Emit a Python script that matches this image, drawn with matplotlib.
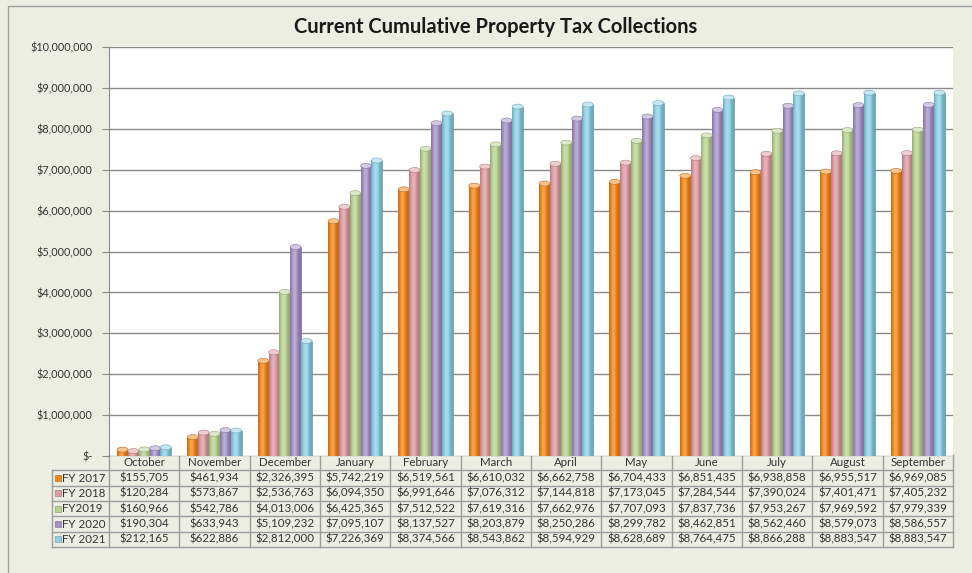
import matplotlib.pyplot as plt
import numpy as np
from matplotlib.patches import Rectangle, Ellipse
from matplotlib.colors import to_rgb

months = ['October', 'November', 'December', 'January', 'February', 'March',
          'April', 'May', 'June', 'July', 'August', 'September']
series = ['FY 2017', 'FY 2018', 'FY2019', 'FY 2020', 'FY 2021']

fy2017 = [155705, 461934, 2326395, 5742219, 6519561, 6610032,
          6662758, 6704433, 6851435, 6938858, 6955517, 6969085]
fy2018 = [120284, 573867, 2536763, 6094350, 6991646, 7076312,
          7144818, 7173045, 7284544, 7390024, 7401471, 7405232]
fy2019 = [160966, 542786, 4013006, 6425365, 7512522, 7619316,
          7662976, 7707093, 7837736, 7953267, 7969592, 7979339]
fy2020 = [190304, 633943, 5109232, 7095107, 8137527, 8203879,
          8250286, 8299782, 8462851, 8562460, 8579073, 8586557]
fy2021 = [212165, 622886, 2812000, 7226369, 8374566, 8543862,
          8594929, 8628689, 8764475, 8866288, 8883547, 8883547]
values = [fy2017, fy2018, fy2019, fy2020, fy2021]

colors = ['#f2861c', '#dc9aa1', '#b8d191', '#a591c6', '#8cd0e4']

plt.rcParams['font.family'] = ['Lato', 'DejaVu Sans']

W, H = 972, 573
fig = plt.figure(figsize=(W / 100, H / 100), dpi=100)
fig.patch.set_facecolor('#eceee2')

# background layer in pixel units: frame, title, data table
bg = fig.add_axes([0, 0, 1, 1], zorder=0)
bg.set_xlim(0, W)
bg.set_ylim(H, 0)
bg.axis('off')
bg.add_patch(Rectangle((8, 6), W, H, fill=False, edgecolor='#a0a0a0', lw=1))
bg.text(496, 27, 'Current Cumulative Property Tax Collections', ha='center',
        va='center', fontsize=14.5, fontweight='bold', color='#1a1a1a')

PL, PR, PT, PB = 109, 953, 47, 456
ax = fig.add_axes([PL / W, 1 - PB / H, (PR - PL) / W, (PB - PT) / H], zorder=1)
ax.set_facecolor('white')


def shade(base, t):
    # brightness profile across a cylinder: dark rims, highlight near the middle
    f = 0.8 + 0.45 * np.exp(-((t - 0.42) / 0.26) ** 2)
    base = np.array(to_rgb(base))
    out = np.empty((len(t), 3))
    for k, fk in enumerate(f):
        if fk < 1:
            out[k] = base * fk
        else:
            out[k] = base + (1 - base) * (fk - 1)
    return np.clip(out, 0, 1)


bw = 0.154
x = np.arange(len(months))
t = np.linspace(0, 1, 40)
cap_h = 1.0e7 / (PB - PT) * 5
for i, vals in enumerate(values):
    pos = x + (i - 2) * bw
    rects = ax.bar(pos, vals, bw, color=colors[i],
                   edgecolor=np.array(to_rgb(colors[i])) * 0.7, lw=0.5, zorder=3)
    grad = shade(colors[i], t)[np.newaxis, :, :]
    for r in rects:
        x0, w, h = r.get_x(), r.get_width(), r.get_height()
        im = ax.imshow(grad, extent=(x0, x0 + w, 0, h), aspect='auto',
                       interpolation='bilinear', zorder=3.5)
        im.set_clip_path(r)
        top = np.array(to_rgb(colors[i]))
        ax.add_patch(Ellipse((x0 + w / 2, h), w, cap_h,
                             facecolor=top + (1 - top) * 0.5,
                             edgecolor=top * 0.8, lw=0.4, zorder=4))

ax.set_xlim(-0.5, len(months) - 0.5)
ax.set_ylim(0, 10000000)
ax.set_yticks(np.arange(0, 10000001, 1000000))
ax.set_yticklabels(['$-'] + ['${:,}'.format(v) for v in range(1000000, 10000001, 1000000)])
ax.set_xticks([])
ax.yaxis.grid(True, color='#8a8a8a', lw=1)
ax.set_axisbelow(True)
ax.tick_params(axis='y', length=5, color='#8a8a8a', labelsize=7.8,
               labelcolor='#333333', pad=7)
for s in ['top', 'right', 'bottom']:
    ax.spines[s].set_visible(False)
ax.spines['left'].set_color('#8a8a8a')

# data table under the chart
col_w = (PR - PL) / len(months)
row_y = np.linspace(455, 547, 7)
line_kw = dict(color='#9c9c9c', lw=1)
for j, y in enumerate(row_y):
    bg.plot([PL if j == 0 else 52, PR], [y, y], **line_kw)
for c in range(len(months) + 1):
    bg.plot([PL + c * col_w] * 2, [row_y[0], row_y[-1]], **line_kw)
bg.plot([52, 52], [row_y[1], row_y[-1]], **line_kw)

fs = 8.3
for c, m in enumerate(months):
    bg.text(PL + (c + 0.5) * col_w, (row_y[0] + row_y[1]) / 2, m,
            ha='center', va='center', fontsize=fs, color='#333333')
for i, name in enumerate(series):
    yc = (row_y[i + 1] + row_y[i + 2]) / 2
    bg.add_patch(Rectangle((55, yc - 3), 6, 6, facecolor=colors[i],
                           edgecolor=np.array(to_rgb(colors[i])) * 0.7, lw=0.4))
    bg.text(62, yc, name, ha='left', va='center', fontsize=fs, color='#333333')
    for c, v in enumerate(values[i]):
        bg.text(PL + (c + 0.5) * col_w, yc, '${:,}'.format(v),
                ha='center', va='center', fontsize=fs, color='#333333')

fig.savefig('out.png', dpi=100, facecolor=fig.get_facecolor())
